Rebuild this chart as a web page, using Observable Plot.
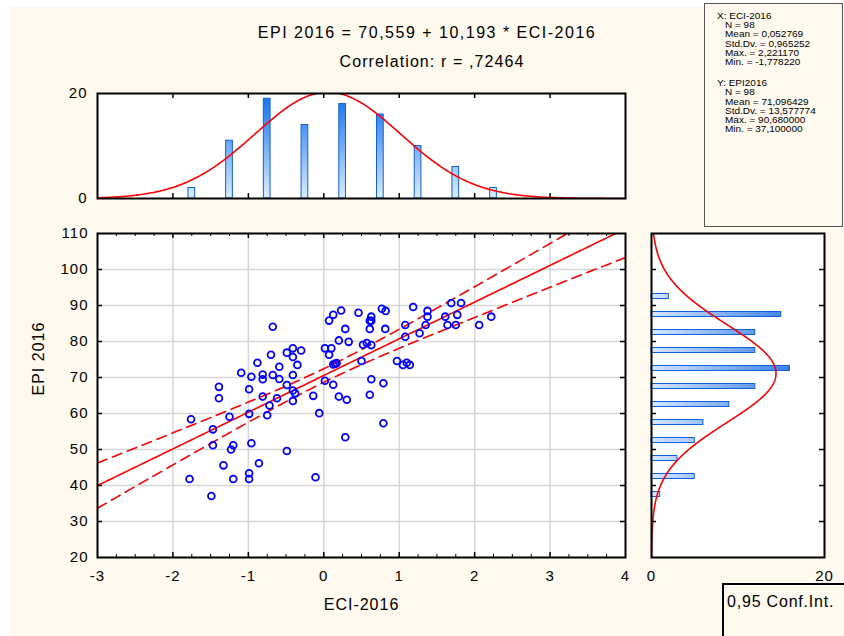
<!DOCTYPE html>
<html>
<head>
<meta charset="utf-8">
<script src="https://cdn.jsdelivr.net/npm/d3@7"></script>
<script src="https://cdn.jsdelivr.net/npm/@observablehq/plot@0.6"></script>
<style>
html,body{margin:0;padding:0;background:#fff;}
#wrap{position:relative;width:844px;height:636px;overflow:hidden;font-family:"Liberation Sans",Arial,sans-serif;color:#000;}
#panel{position:absolute;left:9px;top:7px;right:0;bottom:0;background:#fef9ee;}
.abs{position:absolute;}
.title{position:absolute;width:500px;text-align:center;font-size:16px;line-height:20px;white-space:nowrap;}
#stats{position:absolute;left:704px;top:3px;width:139px;height:224px;box-sizing:border-box;border:1px solid #555;background:#fef9ee;font-size:10px;}
#stats .ln{height:9.2px;white-space:nowrap;}
#stats .ln span{display:inline-block;line-height:11px;transform:scaleY(0.82);transform-origin:0 50%;margin-top:-0.9px;}
#conf{position:absolute;left:722px;top:583px;width:140px;height:70px;box-sizing:border-box;border:2px solid #000;background:#fef9ee;font-size:16px;letter-spacing:0.8px;padding:8px 0 0 3px;}
</style>
</head>
<body>
<div id="wrap">
  <div id="panel"></div>
  <div id="t1" class="title" style="top:23px;left:177px;letter-spacing:1.5px"></div>
  <div id="t2" class="title" style="top:52px;left:182px;letter-spacing:1.1px"></div>
  <div id="top" class="abs" style="left:0;top:80px"></div>
  <div id="main" class="abs" style="left:0;top:200px"></div>
  <div id="right" class="abs" style="left:640px;top:200px"></div>
  <div id="stats"></div>
  <div id="conf"></div>
</div>
<script>
// ---------------- data ----------------
const eci = [
  -0.676,0.07,0.125,0.23,0.46,0.285,0.2,0.33,0.015,0.10,0.07,0.125,0.17,0.15,
  -0.41,-0.49,-0.30,-0.41,-0.70,-0.88,-0.59,-0.35,-1.095,-0.96,-0.81,-0.81,-0.676,-0.59,-0.41,-0.49,
  -0.99,-1.39,-1.39,-0.81,-0.62,-0.41,-0.38,-0.14,0.015,0.125,0.2,0.305,-0.72,-0.41,-0.75,-0.99,
  -1.25,-1.76,-1.47,-1.47,-1.20,-1.23,-0.96,-0.06,0.285,-0.49,-1.33,-0.86,-1.78,-1.20,-0.99,-0.99,-0.11,-1.49,
  0.77,0.82,0.63,0.61,0.63,0.61,0.815,0.52,0.57,0.63,0.50,0.63,0.79,0.61,0.97,1.05,1.14,1.10,
  1.08,1.08,1.185,1.27,1.35,1.375,1.375,1.61,1.64,1.75,1.77,1.69,1.82,2.06,2.22,0.79
];
const epi = [
  84.1,85.8,87.4,88.6,88.0,83.5,80.3,79.9,78.1,78.1,76.3,73.6,74.0,73.8,
  78.1,76.9,77.5,75.7,76.3,74.1,73.0,73.5,71.3,70.2,70.8,69.5,70.7,69.6,70.7,67.9,
  66.75,67.4,64.25,64.7,64.25,66.4,65.6,64.9,69.1,68.0,64.7,63.8,62.2,63.5,59.5,59.9,
  59.1,58.4,55.6,51.2,51.2,50.0,51.75,60.1,53.4,49.6,45.6,46.2,41.8,41.8,43.4,41.8,42.3,37.1,
  89.1,88.5,86.9,85.75,85.75,83.5,83.5,79.1,79.6,79.0,74.6,69.5,68.4,65.2,74.6,73.5,73.5,74.1,
  81.3,84.6,89.6,82.3,84.6,86.9,88.5,86.9,84.6,84.6,87.4,90.68,90.7,84.6,86.9,57.3
];
const eciBinStarts = [-2,-1.5,-1,-0.5,0,0.5,1,1.5,2];
const eciCounts    = [2,11,19,14,18,16,10,6,2];
const eciBinWidth = 0.5;
const epiBinStarts = [35,40,45,50,55,60,65,70,75,80,85,90];
const epiCounts    = [1,5,3,5,6,9,12,16,12,12,15,2];
const epiBinWidth = 5;

const xTicks = [-3,-2,-1,0,1,2,3,4];
const yTicks = [20,30,40,50,60,70,80,90,100,110];
const topYTicks = [0,20];
const rightXTicks = [0,20];

const intercept = 70.559, slope = 10.193, corr = 0.72464;
const nObs = 98;
const statsX = {name:"ECI-2016", mean:0.052769, sd:0.965252, max:2.221170, min:-1.778220};
const statsY = {name:"EPI2016", mean:71.096429, sd:13.577774, max:90.680000, min:37.100000};
const tCrit = 1.985; // t(0.975, 96)
const confLabel = "0,95 Conf.Int.";
const xLabel = "ECI-2016", yLabel = "EPI 2016";

// ---------------- helpers ----------------
const fmt = (v, d) => v.toFixed(d).replace(".", ",");
const tickFmt = d => String(d);
const font = '"Liberation Sans", Arial, sans-serif';
const pdf = (v, m, s) => Math.exp(-0.5 * ((v - m) / s) ** 2) / (s * Math.sqrt(2 * Math.PI));

document.getElementById("t1").textContent = `${yLabel} = ${fmt(intercept,3)} + ${fmt(slope,3)} * ${xLabel}`;
document.getElementById("t2").textContent = `Correlation: r = ${fmt(corr,5).replace(/^0/, "")}`;
document.getElementById("conf").textContent = confLabel;

function line(pad, txt) {
  return `<div class="ln" style="padding-left:${pad}px"><span>${txt}</span></div>`;
}
function statBlock(prefix, s) {
  return [
    line(12, `${prefix}: ${s.name}`),
    line(20, `N = ${nObs}`),
    line(20, `Mean = ${fmt(s.mean,6)}`),
    line(20, `Std.Dv. = ${fmt(s.sd,6)}`),
    line(20, `Max. = ${fmt(s.max,6)}`),
    line(20, `Min. = ${fmt(s.min,6)}`)
  ].join("");
}
document.getElementById("stats").innerHTML =
  `<div style="height:7px"></div>` + statBlock("X", statsX) +
  `<div style="height:12px"></div>` + statBlock("Y", statsY);

function addGradient(svg, id, x1, y1, x2, y2, c1, c2) {
  const ns = "http://www.w3.org/2000/svg";
  const defs = document.createElementNS(ns, "defs");
  const g = document.createElementNS(ns, "linearGradient");
  g.setAttribute("id", id);
  g.setAttribute("gradientUnits", "userSpaceOnUse");
  g.setAttribute("x1", x1); g.setAttribute("y1", y1);
  g.setAttribute("x2", x2); g.setAttribute("y2", y2);
  [[0, c1], [1, c2]].forEach(([o, c]) => {
    const s = document.createElementNS(ns, "stop");
    s.setAttribute("offset", o); s.setAttribute("stop-color", c);
    g.appendChild(s);
  });
  defs.appendChild(g);
  svg.insertBefore(defs, svg.firstChild);
}

// ---------------- derived series ----------------
const points = eci.map((x, i) => ({x, y: epi[i]}));
const sxx = (nObs - 1) * statsX.sd ** 2;
const sRes = statsY.sd * Math.sqrt((1 - corr ** 2) * (nObs - 1) / (nObs - 2));
const fit = d3.range(-3, 4.0001, 0.05).map(x => {
  const y = intercept + slope * x;
  const se = sRes * Math.sqrt(1 / nObs + (x - statsX.mean) ** 2 / sxx);
  return {x, y, lo: y - tCrit * se, hi: y + tCrit * se};
});
const normTop = d3.range(-3, 4.0001, 0.02).map(x => ({x, c: nObs * eciBinWidth * pdf(x, statsX.mean, statsX.sd)}));
const normRight = d3.range(20, 110.0001, 0.25).map(y => ({y, c: nObs * epiBinWidth * pdf(y, statsY.mean, statsY.sd)}));
const eciBins = eciBinStarts.map((s, i) => ({x0: s, x1: s + eciBinWidth, c: eciCounts[i]}));
const epiBins = epiBinStarts.map((s, i) => ({y0: s, y1: s + epiBinWidth, c: epiCounts[i]}));
const innerX = xTicks.slice(1, -1);
const innerY = yTicks.slice(1, -1);
const minorX = d3.range(-3, 4.0001, 0.25).filter(v => Math.abs(v - Math.round(v)) > 1e-6);

// ---------------- main scatter ----------------
const M = {w: 635, h: 430, l: 97, r: 10, t: 33, b: 73};
const fw = M.w - M.l - M.r, fh = M.h - M.t - M.b;
const mainPlot = Plot.plot({
  width: M.w, height: M.h,
  marginLeft: M.l, marginRight: M.r, marginTop: M.t, marginBottom: M.b,
  style: {background: "transparent", fontFamily: font, fontSize: "15px", color: "#000", letterSpacing: "1px", overflow: "visible"},
  x: {domain: [-3, 4]},
  y: {domain: [20, 110]},
  marks: [
    Plot.frame({fill: "white"}),
    Plot.gridX(innerX, {stroke: "#d6d6d6", strokeOpacity: 1, strokeWidth: 1.5}),
    Plot.gridY(innerY, {stroke: "#d6d6d6", strokeOpacity: 1, strokeWidth: 1.5}),
    Plot.line(fit, {x: "x", y: "y", stroke: "#ff0000", strokeWidth: 1.6, clip: true}),
    Plot.line(fit, {x: "x", y: "lo", stroke: "#ff0000", strokeWidth: 1.6, strokeDasharray: "10,6", clip: true}),
    Plot.line(fit, {x: "x", y: "hi", stroke: "#ff0000", strokeWidth: 1.6, strokeDasharray: "10,6", clip: true}),
    Plot.dot(points, {x: "x", y: "y", r: 3.4, stroke: "#0000ff", strokeWidth: 1.8, fill: "none"}),
    Plot.ruleX(innerX, {stroke: "#000", strokeWidth: 1.5, insetTop: fh - 5}),
    Plot.ruleX(innerX, {stroke: "#000", strokeWidth: 1.5, insetBottom: fh - 5}),
    Plot.ruleX(minorX, {stroke: "#000", strokeWidth: 1, insetTop: fh - 3}),
    Plot.ruleX(minorX, {stroke: "#000", strokeWidth: 1, insetBottom: fh - 3}),
    Plot.ruleY(innerY, {stroke: "#000", strokeWidth: 1.5, insetRight: fw - 5}),
    Plot.ruleY(innerY, {stroke: "#000", strokeWidth: 1.5, insetLeft: fw - 5}),
    Plot.axisX(xTicks, {tickSize: 0, tickPadding: 13, label: null, tickFormat: tickFmt}),
    Plot.axisY(yTicks, {tickSize: 0, tickPadding: 9, label: null, tickFormat: tickFmt}),
    Plot.text([xLabel], {frameAnchor: "bottom", text: d => d, dy: 52, fontSize: 16, letterSpacing: "1.5px"}),
    Plot.text([yLabel], {frameAnchor: "left", text: d => d, dx: -59, rotate: -90, fontSize: 16}),
    Plot.frame({stroke: "#000", strokeWidth: 2})
  ]
});
document.getElementById("main").appendChild(mainPlot);

// ---------------- top histogram ----------------
const T = {w: 635, h: 130, l: 97, r: 10, t: 13, b: 12};
const tfh = T.h - T.t - T.b;
const topPlot = Plot.plot({
  width: T.w, height: T.h,
  marginLeft: T.l, marginRight: T.r, marginTop: T.t, marginBottom: T.b,
  style: {background: "transparent", fontFamily: font, fontSize: "15px", color: "#000", letterSpacing: "1px", overflow: "visible"},
  x: {domain: [-3, 4], axis: null},
  y: {domain: [0, 20]},
  marks: [
    Plot.frame({fill: "white"}),
    Plot.rectY(eciBins, {x1: "x0", x2: "x1", y1: 0, y2: "c", insetLeft: 15.5, insetRight: 15.5,
      fill: "url(#gTop)", stroke: "#1160d8", strokeWidth: 1}),
    Plot.line(normTop, {x: "x", y: "c", stroke: "#ff0000", strokeWidth: 1.6, clip: true}),
    Plot.ruleX(innerX, {stroke: "#000", strokeWidth: 1.5, insetTop: tfh - 5}),
    Plot.ruleX(innerX, {stroke: "#000", strokeWidth: 1.5, insetBottom: tfh - 5}),
    Plot.axisY(topYTicks, {tickSize: 0, tickPadding: 10, label: null, tickFormat: tickFmt}),
    Plot.frame({stroke: "#000", strokeWidth: 2})
  ]
});
{
  const ys = topPlot.scale("y");
  addGradient(topPlot, "gTop", 0, ys.apply(20), 0, ys.apply(0), "#0f6deb", "#dcecfc");
}
document.getElementById("top").appendChild(topPlot);

// ---------------- right histogram ----------------
const R = {w: 204, h: 430, l: 11, r: 20, t: 33, b: 73};
const rfw = R.w - R.l - R.r;
const rightPlot = Plot.plot({
  width: R.w, height: R.h,
  marginLeft: R.l, marginRight: R.r, marginTop: R.t, marginBottom: R.b,
  style: {background: "transparent", fontFamily: font, fontSize: "15px", color: "#000", letterSpacing: "1px", overflow: "visible"},
  x: {domain: [0, 20]},
  y: {domain: [20, 110], axis: null},
  marks: [
    Plot.frame({fill: "white"}),
    Plot.rectX(epiBins, {y1: "y0", y2: "y1", x1: 0, x2: "c", insetTop: 6.5, insetBottom: 6.5,
      fill: "url(#gRight)", stroke: "#1160d8", strokeWidth: 1}),
    Plot.line(normRight, {x: "c", y: "y", stroke: "#ff0000", strokeWidth: 1.6, clip: true}),
    Plot.ruleY(innerY, {stroke: "#000", strokeWidth: 1.5, insetRight: rfw - 5}),
    Plot.ruleY(innerY, {stroke: "#000", strokeWidth: 1.5, insetLeft: rfw - 5}),
    Plot.axisX(rightXTicks, {tickSize: 0, tickPadding: 13, label: null, tickFormat: tickFmt}),
    Plot.frame({stroke: "#000", strokeWidth: 2})
  ]
});
{
  const xs = rightPlot.scale("x");
  addGradient(rightPlot, "gRight", xs.apply(0), 0, xs.apply(20), 0, "#d6e8fc", "#1466e4");
}
document.getElementById("right").appendChild(rightPlot);
</script>
</body>
</html>
